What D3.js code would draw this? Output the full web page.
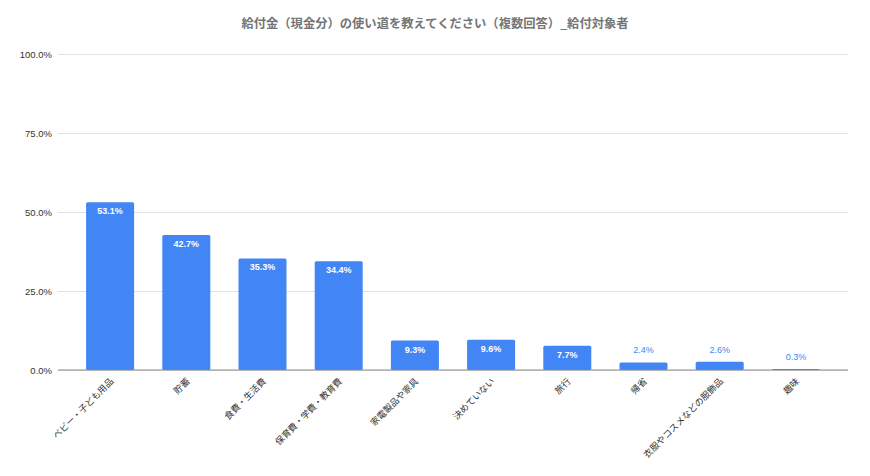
<!DOCTYPE html>
<html>
<head>
<meta charset="utf-8">
<script src="https://cdn.jsdelivr.net/npm/d3@7"></script>
<style>
  body { margin: 0; background: #fff; }
</style>
</head>
<body>
<svg id="chart" width="870" height="476" font-family="Noto Sans CJK JP, Noto Sans, sans-serif"></svg>
<script>
const title = "給付金（現金分）の使い道を教えてください（複数回答）_給付対象者";
const categories = ["ベビー・子ども用品", "貯蓄", "食費・生活費", "保育費・学費・教育費", "家電製品や家具", "決めていない", "旅行", "帰省", "衣服やコスメなどの服飾品", "趣味"];
const values = [53.1, 42.7, 35.3, 34.4, 9.3, 9.6, 7.7, 2.4, 2.6, 0.3];
const yTicks = [0, 25, 50, 75, 100];

const svg = d3.select("#chart");
const margin = { top: 54, left: 58, right: 22, bottom: 106 };
const width = 870, height = 476;
const numFont = "Liberation Sans, Arial, sans-serif";

const x = d3.scaleBand()
  .domain(categories)
  .range([72, 834])
  .paddingInner(0.37)
  .paddingOuter(0.185);

const y = d3.scaleLinear()
  .domain([0, 100])
  .range([height - margin.bottom, margin.top]);

svg.append("text")
  .attr("x", 435)
  .attr("y", 28)
  .attr("text-anchor", "middle")
  .attr("fill", "#757575")
  .attr("font-size", 12.3)
  .attr("font-weight", "bold")
  .text(title);

// gridlines + y labels
const yAxis = svg.append("g")
  .attr("transform", `translate(${margin.left},0)`)
  .call(d3.axisLeft(y)
    .tickValues(yTicks)
    .tickSize(-(width - margin.left - margin.right))
    .tickPadding(6)
    .tickFormat(d => d.toFixed(1) + "%"));
yAxis.attr("font-family", numFont);
yAxis.select(".domain").remove();
yAxis.selectAll(".tick line").attr("stroke", "#e2e2e2");
yAxis.selectAll(".tick text")
  .attr("fill", "#333")
  .attr("font-size", 9.5);

// bars
svg.append("g").selectAll("rect")
  .data(values)
  .join("rect")
  .attr("x", (d, i) => x(categories[i]))
  .attr("y", d => y(d))
  .attr("width", x.bandwidth())
  .attr("height", d => y(0) - y(d))
  .attr("rx", 1.5)
  .attr("fill", "#4285f4");

// value labels
svg.append("g")
  .attr("font-family", numFont)
  .selectAll("text")
  .data(values)
  .join("text")
  .attr("x", (d, i) => x(categories[i]) + x.bandwidth() / 2)
  .attr("y", d => d >= 5 ? y(d) + 12 : y(d) - 9)
  .attr("text-anchor", "middle")
  .attr("font-size", 9)
  .attr("font-weight", d => d >= 5 ? "bold" : "normal")
  .attr("fill", d => d >= 5 ? "#fff" : "#4285f4")
  .text(d => d.toFixed(1) + "%");

// x axis
const xAxis = svg.append("g")
  .attr("transform", `translate(0,${y(0)})`)
  .call(d3.axisBottom(x).tickSize(0).tickPadding(0));
xAxis.attr("font-family", null);
xAxis.select(".domain")
  .attr("d", `M${margin.left},0H${width - margin.right}`)
  .attr("stroke", "#888");
xAxis.selectAll(".tick text")
  .attr("fill", "#333")
  .attr("font-size", 9)
  .attr("text-anchor", "end")
  .attr("dy", 0)
  .attr("transform", "translate(4,12) rotate(-45)");
</script>
</body>
</html>
